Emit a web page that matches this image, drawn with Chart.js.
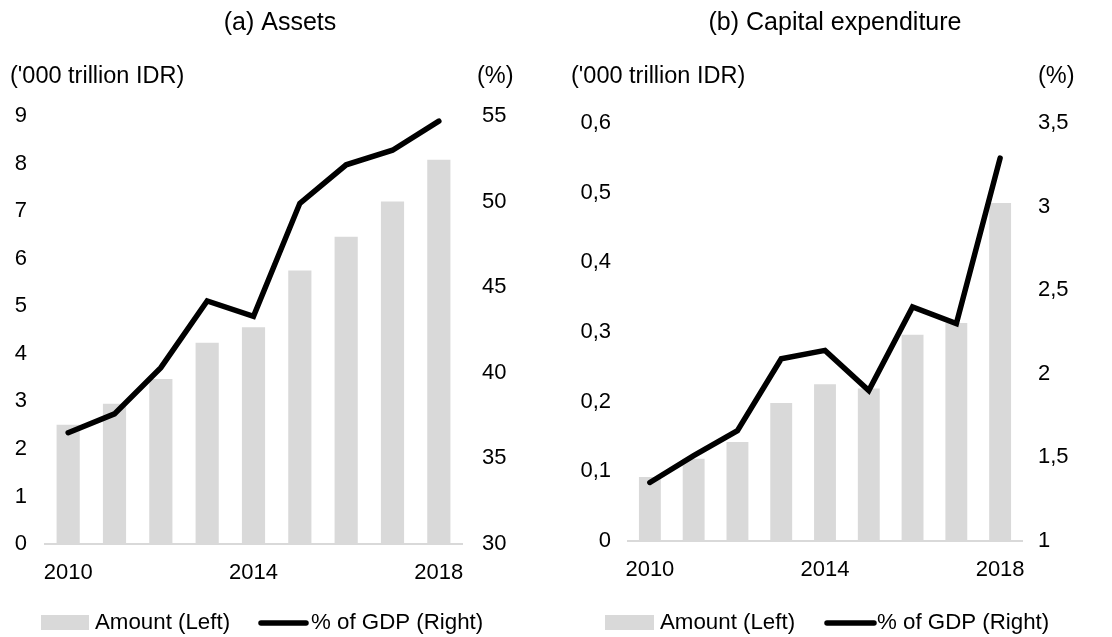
<!DOCTYPE html>
<html>
<head>
<meta charset="utf-8">
<script src="https://cdn.jsdelivr.net/npm/chart.js@4.4.1/dist/chart.umd.min.js"></script>
<style>
  html, body { margin: 0; padding: 0; background: #fff; }
  #wrap { position: relative; width: 1112px; height: 637px; }
  .panel { position: absolute; top: 0; width: 556px; height: 637px; }
</style>
</head>
<body>
<div id="wrap">
  <div class="panel" style="left:0"><canvas id="c1" width="556" height="637"></canvas></div>
  <div class="panel" style="left:556px"><canvas id="c2" width="556" height="637"></canvas></div>
</div>
<script>
// ---- Data ----
const years = ['2010', '2011', '2012', '2013', '2014', '2015', '2016', '2017', '2018'];
const shownYearLabels = ['2010', '2014', '2018'];

const assetsAmount = [2.51, 2.95, 3.47, 4.23, 4.56, 5.75, 6.46, 7.20, 8.08];
const assetsPctGDP = [36.5, 37.6, 40.3, 44.2, 43.3, 49.9, 52.15, 53.0, 54.7];

const capexAmount = [0.092, 0.118, 0.142, 0.198, 0.225, 0.219, 0.296, 0.313, 0.485];
const capexPctGDP = [1.35, 1.51, 1.66, 2.09, 2.14, 1.90, 2.40, 2.30, 3.29];

const assetsLeftTicks = [0, 1, 2, 3, 4, 5, 6, 7, 8, 9];
const assetsRightTicks = [30, 35, 40, 45, 50, 55];
const capexLeftTicks = [0, 0.1, 0.2, 0.3, 0.4, 0.5, 0.6];
const capexRightTicks = [1, 1.5, 2, 2.5, 3, 3.5];

const panelTitles = ['(a) Assets', '(b) Capital expenditure'];
const leftUnit = "('000 trillion IDR)";
const rightUnit = '(%)';
const legendLabels = ['Amount (Left)', '% of GDP (Right)'];

// ---- Styling ----
const FONT = "'Liberation Sans', Arial, Helvetica, sans-serif";
const BAR_COLOR = '#d9d9d9';
const LINE_COLOR = '#000000';
const TEXT_COLOR = '#000000';
Chart.defaults.font.family = FONT;
Chart.defaults.color = TEXT_COLOR;

function fmt(v) {
  return String(Number(v.toFixed(2))).replace('.', ',');
}

function decorPlugin(L) {
  return {
    id: 'decor',
    afterDraw(chart) {
      const ctx = chart.ctx;
      ctx.save();
      ctx.fillStyle = TEXT_COLOR;
      // title
      ctx.font = '25px ' + FONT;
      ctx.textAlign = 'center';
      ctx.textBaseline = 'middle';
      ctx.fillText(L.title, L.titleX, 23);
      // unit labels
      ctx.font = '23.5px ' + FONT;
      ctx.textAlign = 'left';
      ctx.fillText(leftUnit, L.unitLeftX, 77);
      ctx.fillText(rightUnit, L.unitRightX, 77);
      // legend
      ctx.fillStyle = BAR_COLOR;
      ctx.fillRect(L.lg.rectX, 615, L.lg.rectW, 15);
      ctx.strokeStyle = LINE_COLOR;
      ctx.lineWidth = 5.5;
      ctx.lineCap = 'round';
      ctx.beginPath();
      ctx.moveTo(L.lg.lineX1, 623);
      ctx.lineTo(L.lg.lineX2, 623);
      ctx.stroke();
      ctx.fillStyle = TEXT_COLOR;
      ctx.font = '22.3px ' + FONT;
      ctx.textAlign = 'left';
      ctx.textBaseline = 'middle';
      ctx.fillText(legendLabels[0], L.lg.text1X, 623);
      ctx.fillText(legendLabels[1], L.lg.text2X, 623);
      ctx.restore();
    }
  };
}

function makeChart(id, amount, pct, lt, rt, L) {
  const xH = 50;
  return new Chart(document.getElementById(id), {
    data: {
      labels: years,
      datasets: [
        {
          type: 'line', label: legendLabels[1], data: pct, yAxisID: 'y1',
          borderColor: LINE_COLOR, borderWidth: 5.5, pointRadius: 0,
          borderCapStyle: 'round', borderJoinStyle: 'miter', tension: 0, order: 0
        },
        {
          type: 'bar', label: legendLabels[0], data: amount, yAxisID: 'y',
          backgroundColor: BAR_COLOR, borderWidth: 0,
          barPercentage: 0.5, categoryPercentage: 1.0, order: 1
        }
      ]
    },
    options: {
      responsive: false,
      animation: false,
      events: [],
      layout: { padding: { top: L.top, bottom: 637 - L.bottom - xH, left: 0, right: 0 } },
      plugins: { legend: { display: false }, title: { display: false }, tooltip: { enabled: false } },
      scales: {
        x: {
          type: 'category',
          grid: { display: false, drawTicks: false },
          border: { display: true, color: BAR_COLOR, width: 2 },
          ticks: {
            autoSkip: false, maxRotation: 0, minRotation: 0, padding: 16,
            font: { size: 22 }, color: TEXT_COLOR,
            callback: function (v, i) { const lab = years[i]; return shownYearLabels.includes(lab) ? lab : ''; }
          },
          afterFit: s => { s.height = xH; }
        },
        y: {
          position: 'left', min: lt[0], max: lt[lt.length - 1],
          grid: { display: false, drawTicks: false },
          border: { display: false },
          afterBuildTicks: s => { s.ticks = lt.map(v => ({ value: v })); },
          ticks: { padding: L.lPad, font: { size: 22 }, color: TEXT_COLOR, callback: v => fmt(v) },
          afterFit: s => { s.width = L.leftW; }
        },
        y1: {
          position: 'right', min: rt[0], max: rt[rt.length - 1],
          grid: { display: false, drawTicks: false },
          border: { display: false },
          afterBuildTicks: s => { s.ticks = rt.map(v => ({ value: v })); },
          ticks: { padding: L.rPad, font: { size: 22 }, color: TEXT_COLOR, callback: v => fmt(v) },
          afterFit: s => { s.width = L.rightW; }
        }
      }
    },
    plugins: [decorPlugin(L)]
  });
}

makeChart('c1', assetsAmount, assetsPctGDP, assetsLeftTicks, assetsRightTicks, {
  title: panelTitles[0], titleX: 280, unitLeftX: 10, unitRightX: 477,
  top: 116, bottom: 544, leftW: 45, rightW: 94, lPad: 18, rPad: 20,
  lg: { rectX: 41, rectW: 48, text1X: 95, lineX1: 261, lineX2: 306, text2X: 311 }
});

makeChart('c2', capexAmount, capexPctGDP, capexLeftTicks, capexRightTicks, {
  title: panelTitles[1], titleX: 279, unitLeftX: 15, unitRightX: 482,
  top: 123, bottom: 541, leftW: 72, rightW: 90, lPad: 17, rPad: 16,
  lg: { rectX: 49, rectW: 49, text1X: 104, lineX1: 271, lineX2: 318, text2X: 321 }
});
</script>
</body>
</html>
